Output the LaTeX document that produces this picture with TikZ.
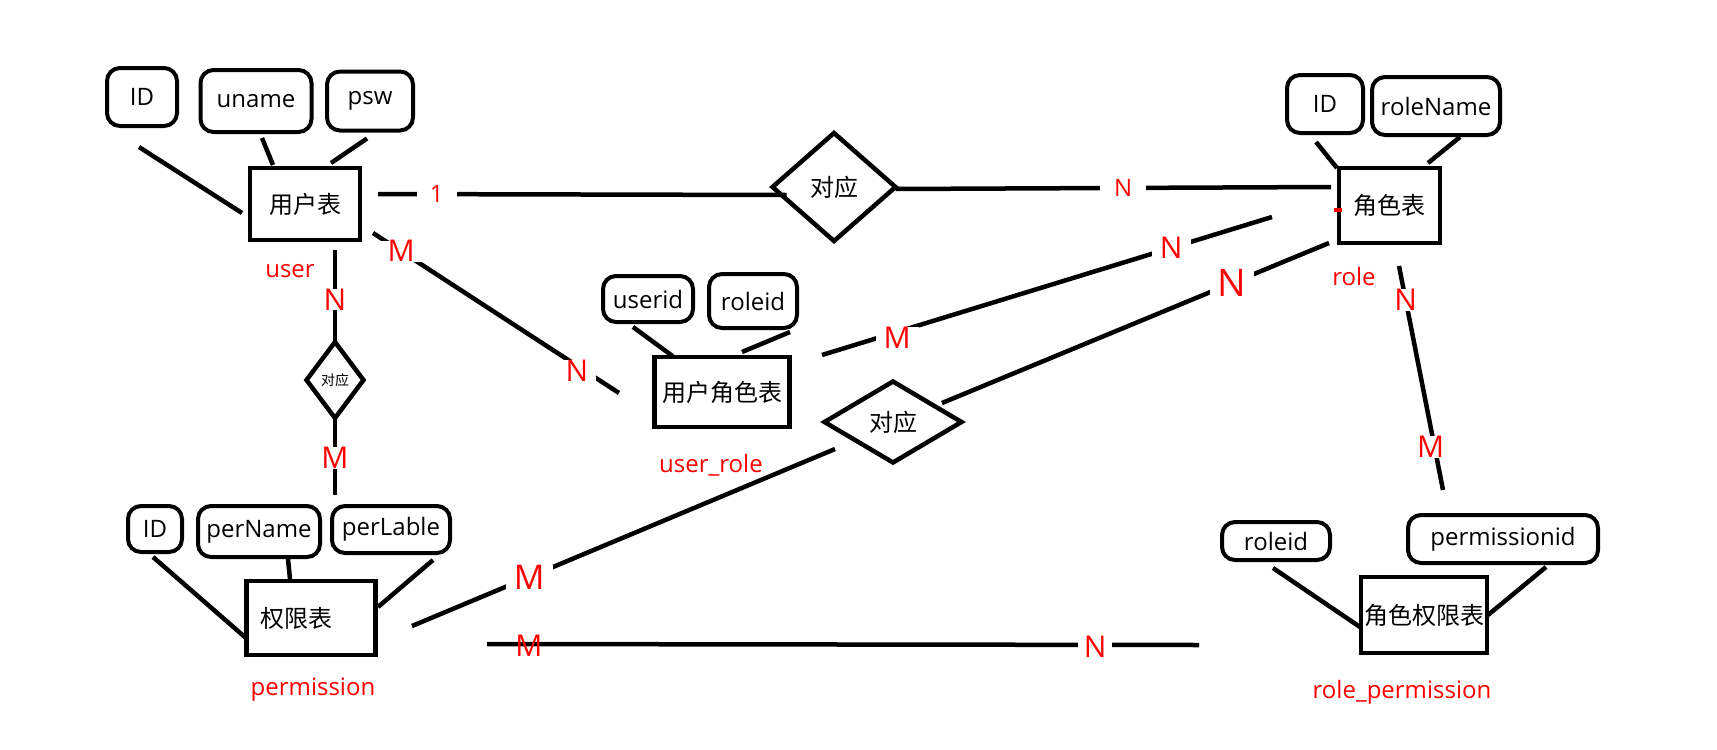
\documentclass[tikz,border=0pt]{standalone}
\usepackage{fontspec}
\setmainfont{Open Sans}
\newfontfamily\cjk{Noto Sans CJK SC}
\usetikzlibrary{shapes.geometric, calc}

\begin{document}
\begin{tikzpicture}[x=1pt, y=-1pt,
    ent/.style={draw, line width=4.5pt, inner sep=0pt, outer sep=0pt, font=\fontsize{24}{28}\selectfont\cjk},
    attr/.style={draw, line width=4pt, rounded corners=13pt, inner sep=0pt, outer sep=0pt, font=\fontsize{24}{28}\selectfont},
    rel/.style={draw, diamond, line width=4.5pt, inner sep=0pt, outer sep=0pt, font=\fontsize{24}{28}\selectfont\cjk},
    link/.style={line width=4.5pt},
    tname/.style={text=red, font=\fontsize{24}{28}\selectfont},
    card/.style={text=red, fill=white, inner xsep=8pt, inner ysep=0pt, font=\fontsize{30}{32}\selectfont}]

            \fill[white] (0,0) rectangle (1717,750);
            \useasboundingbox (0,0) rectangle (1717,750);

            % user
            \node[ent, minimum width=110pt, minimum height=72pt] (user) at (305,204) {用户表};
            \node[attr, minimum width=70pt, minimum height=58pt] (uid) at (142,97) {ID};
            \node[attr, minimum width=111pt, minimum height=62pt] (uname) at (256,101) {uname};
            \node[attr, minimum width=86pt, minimum height=59pt] (upsw) at (370,101) {psw};
            \node[tname] (userlab) at ($(user.south)+(-15,31)$) {user};

            \draw[link] ($(uid.south)+(-3,21)$) -- ($(user.west)+(-8,9)$);
            \draw[link] ($(uname.south)+(6,6)$) -- ($(user.north)+(-32,-3)$);
            \draw[link] ($(upsw.south)+(-3,8)$) -- ($(user.north)+(26,-5)$);

            % role
            \node[ent, minimum width=101pt, minimum height=75pt] (role) at (1389.5,205.5) {角色表};
            \node[attr, minimum width=76pt, minimum height=58pt] (rid) at (1325,104) {ID};
            \node[attr, minimum width=128pt, minimum height=58pt] (rname) at (1436,106) {roleName};
            \node[tname] (rolelab) at ($(role.south)+(-35.5,33)$) {role};

            \draw[link] ($(rid.south)+(-9,9)$) -- ($(role.north west)+(-2,0)$);
            \draw[link] ($(rname.south)+(24,2)$) -- ($(role.north)+(38.5,-5)$);
            \draw[red, line width=4pt] ($(role.west)+(-5,4.5)$) -- ++(8,0);

            % user_role
            \node[ent, minimum width=135pt, minimum height=70pt] (ur) at (722,392) {用户角色表};
            \node[attr, minimum width=90pt, minimum height=46pt] (urid) at (648,299) {userid};
            \node[attr, minimum width=88pt, minimum height=54pt] (urrole) at (753,301) {roleid};
            \node[tname] (urlab) at ($(ur.south)+(-11,38)$) {user\_role};

            \draw[link] ($(urid.south)+(-15,5)$) -- ($(ur.north west)+(18,-1)$);
            \draw[link] ($(urrole.south)+(37,4)$) -- ($(ur.north)+(20,-5)$);

            % permission
            \node[ent, minimum width=129pt, minimum height=74pt] (perm) at (311,618) {\hspace*{-30pt}权限表};
            \node[attr, minimum width=54pt, minimum height=46pt] (pid) at (155,529) {ID};
            \node[attr, minimum width=122pt, minimum height=51pt] (pname) at (259,531.5) {perName};
            \node[attr, minimum width=118pt, minimum height=47pt] (plable) at (391,529.5) {perLable};
            \node[tname] (permlab) at ($(perm.south)+(2,35)$) {permission};

            \draw[link] ($(pid.south)+(-2,5)$) -- ($(perm.west)+(-0.5,20)$);
            \draw[link] ($(pname.south)+(29,2)$) -- ($(perm.north)+(-21,-2)$);
            \draw[link] ($(plable.south)+(42,7)$) -- ($(perm.east)+(2.5,-11)$);

            % role_permission
            \node[ent, minimum width=126pt, minimum height=76pt] (rp) at (1424,615) {角色权限表};
            \node[attr, minimum width=108pt, minimum height=38pt] (rprole) at (1276,541) {roleid};
            \node[attr, minimum width=190pt, minimum height=48pt] (rpperm) at (1503,539) {permissionid};
            \node[tname] (rplab) at ($(rp.south)+(-22,39)$) {role\_permission};

            \draw[link] ($(rprole.south)+(-3,8)$) -- ($(rp.west)+(-1,12)$);
            \draw[link] ($(rpperm.south)+(43,4)$) -- ($(rp.east)+(1,0)$);

            % relations
            \node[rel, minimum width=123pt, minimum height=108pt] (rel1) at (834,187) {对应};
            \node[rel, minimum width=137pt, minimum height=81pt] (rel2) at (893,422) {对应};
            \node[rel, minimum width=57pt, minimum height=76pt, font=\fontsize{14}{16}\selectfont\cjk] (rel3) at (335,380) {对应};

            \draw[link] ($(user.east)+(18,-10)$) -- node[card, pos=0.144, inner xsep=13pt, font=\fontsize{24}{26}\selectfont] (c1) {1} ($(rel1.west)+(14,8)$);
            \draw[link] ($(rel1.east)+(0,2)$) -- node[card, pos=0.523, inner xsep=14pt, font=\fontsize{24}{26}\selectfont] (c2) {N} ($(role.west)+(-8,-18.5)$);

            \draw[link] ($(user.south east)+(13,-7)$) -- node[card, pos=0.114] (c3) {M}
                node[card, pos=0.829, yshift=-5pt] (c4) {N} ($(ur.west)+(-35.5,1)$);
            \draw[link] ($(ur.east)+(32.5,-37)$) -- node[card, pos=0.167, yshift=-6pt] (c5) {M}
                node[card, pos=0.776] (c6) {N} ($(role.west)+(-67,11.5)$);

            \draw[link] ($(role.south west)+(-10,0)$) -- node[card, pos=0.251, font=\fontsize{38}{40}\selectfont] (c7) {N} ($(rel2.east)+(-19.5,-19)$);
            \draw[link] ($(rel2.west)+(10.5,27)$) -- node[card, pos=0.723, font=\fontsize{34}{36}\selectfont] (c8) {M} ($(perm.east)+(36.5,8)$);

            \draw[link] ($(user.south)+(30,10)$) -- node[card, pos=0.54, inner xsep=2pt] (c9) {N} (rel3.north);
            \draw[link] (rel3.south) -- node[card, pos=0.52, inner xsep=2pt] (c10) {M} ($(perm.north)+(24,-86)$);

            \draw[link] ($(perm.east)+(111.5,26)$) -- node[card, fill=none, pos=0.059, yshift=-2pt] (c11) {M}
                node[card, pos=0.854, inner xsep=6pt, yshift=-2pt] (c12) {N} ($(rp.west)+(-162,30)$);
            \draw[link] ($(role.south)+(9.5,23)$) -- node[card, pos=0.152, inner xsep=2pt] (c13) {N}
                node[card, pos=0.808, inner xsep=2pt, xshift=-4pt] (c14) {M} ($(rp.north)+(19,-87)$);
        \end{tikzpicture}
\end{document}
